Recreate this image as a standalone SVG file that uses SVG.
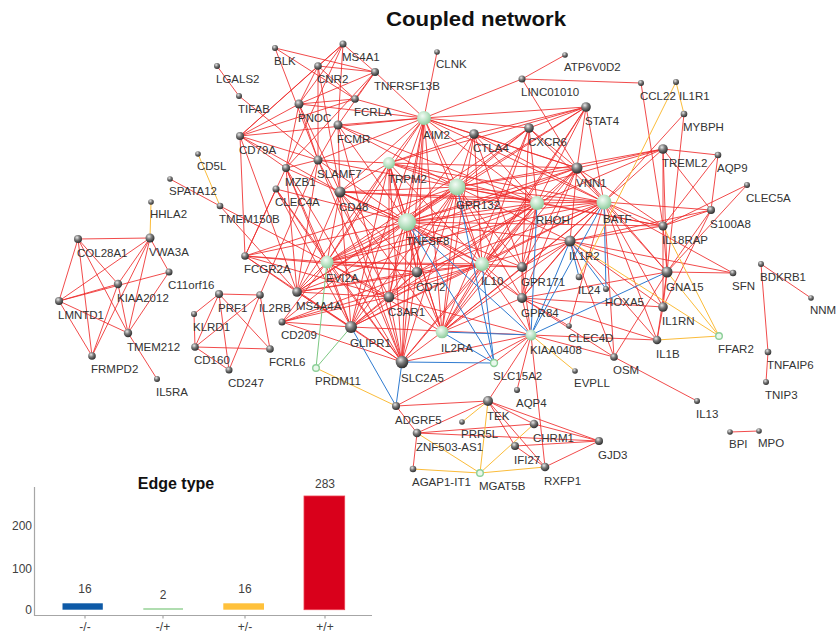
<svg xmlns="http://www.w3.org/2000/svg" width="837" height="635" viewBox="0 0 837 635">
<defs>
<radialGradient id="gs" cx="0.38" cy="0.32" r="0.7"><stop offset="0" stop-color="#e8e8e8"/><stop offset="0.45" stop-color="#7a7a7a"/><stop offset="1" stop-color="#2a2a2a"/></radialGradient>
<radialGradient id="gg" cx="0.4" cy="0.35" r="0.7"><stop offset="0" stop-color="#f4fcf6"/><stop offset="0.5" stop-color="#bfe5c8"/><stop offset="1" stop-color="#86c896"/></radialGradient>
</defs>
<style>
#edges line{fill:none}
.r{stroke:#ee2b2b;stroke-width:0.85}
.b{stroke:#2f7bd0;stroke-width:1}
.y{stroke:#fbbc3a;stroke-width:1}
.g{stroke:#7dc883;stroke-width:1}
.s{fill:url(#gs)}
.t{fill:url(#gg)}
.u{fill:#eaf8ec;stroke:#8ccf98;stroke-width:1.4}
.l{font-family:"Liberation Sans",Arial,sans-serif;font-size:11.5px;fill:#333}
.ttl{font-family:"Liberation Sans",Arial,sans-serif;font-weight:bold;fill:#111}
.ax{stroke:#a6a6a6;stroke-width:1.2;fill:none}
.cl{font-family:"Liberation Sans",Arial,sans-serif;font-size:12px;fill:#404040}
</style>
<rect width="837" height="635" fill="#fff"/>
<text class="ttl" x="476" y="26" font-size="20" text-anchor="middle" textLength="180" lengthAdjust="spacingAndGlyphs">Coupled network</text>
<g id="edges">
<g class="r">
<line x1="78" y1="239" x2="150" y2="238"/><line x1="78" y1="239" x2="59" y2="301"/><line x1="78" y1="239" x2="118" y2="284"/><line x1="78" y1="239" x2="128" y2="333"/><line x1="78" y1="239" x2="92" y2="356"/>
<line x1="150" y1="238" x2="59" y2="301"/><line x1="150" y1="238" x2="118" y2="284"/><line x1="150" y1="238" x2="169" y2="272"/><line x1="150" y1="238" x2="128" y2="333"/><line x1="150" y1="238" x2="92" y2="356"/>
<line x1="59" y1="301" x2="118" y2="284"/><line x1="59" y1="301" x2="169" y2="272"/><line x1="59" y1="301" x2="128" y2="333"/><line x1="59" y1="301" x2="92" y2="356"/>
<line x1="118" y1="284" x2="128" y2="333"/><line x1="118" y1="284" x2="92" y2="356"/><line x1="169" y1="272" x2="128" y2="333"/><line x1="128" y1="333" x2="157" y2="379"/>
<line x1="170" y1="179" x2="220" y2="206"/><line x1="217" y1="66" x2="239" y2="96"/><line x1="239" y1="96" x2="318" y2="160"/><line x1="220" y1="206" x2="327" y2="262"/><line x1="220" y1="206" x2="297" y2="292"/>
<line x1="219" y1="294" x2="194" y2="314"/><line x1="219" y1="294" x2="195" y2="347"/><line x1="219" y1="294" x2="260" y2="295"/><line x1="219" y1="294" x2="270" y2="349"/><line x1="219" y1="294" x2="229" y2="370"/>
<line x1="194" y1="314" x2="195" y2="347"/><line x1="195" y1="347" x2="260" y2="295"/><line x1="195" y1="347" x2="270" y2="349"/><line x1="195" y1="347" x2="229" y2="370"/><line x1="260" y1="295" x2="229" y2="370"/><line x1="260" y1="295" x2="270" y2="349"/><line x1="260" y1="295" x2="318" y2="160"/>
<line x1="275" y1="48" x2="375" y2="72"/><line x1="275" y1="48" x2="355" y2="99"/><line x1="275" y1="48" x2="318" y2="160"/>
<line x1="343" y1="44" x2="318" y2="66"/><line x1="343" y1="44" x2="299" y2="104"/><line x1="343" y1="44" x2="375" y2="72"/><line x1="343" y1="44" x2="338" y2="125"/><line x1="343" y1="44" x2="240" y2="136"/><line x1="343" y1="44" x2="286" y2="168"/>
<line x1="318" y1="66" x2="299" y2="104"/><line x1="318" y1="66" x2="375" y2="72"/><line x1="318" y1="66" x2="355" y2="99"/><line x1="318" y1="66" x2="240" y2="136"/><line x1="318" y1="66" x2="318" y2="160"/><line x1="318" y1="66" x2="340" y2="192"/>
<line x1="375" y1="72" x2="299" y2="104"/><line x1="375" y1="72" x2="355" y2="99"/><line x1="375" y1="72" x2="338" y2="125"/><line x1="375" y1="72" x2="424" y2="118"/><line x1="375" y1="72" x2="286" y2="168"/>
<line x1="299" y1="104" x2="355" y2="99"/><line x1="299" y1="104" x2="240" y2="136"/><line x1="299" y1="104" x2="286" y2="168"/><line x1="299" y1="104" x2="424" y2="118"/><line x1="299" y1="104" x2="318" y2="160"/><line x1="299" y1="104" x2="340" y2="192"/>
<line x1="355" y1="99" x2="240" y2="136"/><line x1="355" y1="99" x2="424" y2="118"/>
<line x1="338" y1="125" x2="424" y2="118"/><line x1="338" y1="125" x2="340" y2="192"/><line x1="338" y1="125" x2="407" y2="222"/><line x1="338" y1="125" x2="457" y2="187"/><line x1="338" y1="125" x2="537" y2="203"/><line x1="338" y1="125" x2="318" y2="160"/>
<line x1="240" y1="136" x2="286" y2="168"/><line x1="240" y1="136" x2="318" y2="160"/><line x1="240" y1="136" x2="424" y2="118"/><line x1="240" y1="136" x2="340" y2="192"/>
<line x1="318" y1="160" x2="286" y2="168"/><line x1="318" y1="160" x2="424" y2="118"/><line x1="318" y1="160" x2="389" y2="163"/><line x1="318" y1="160" x2="457" y2="187"/><line x1="318" y1="160" x2="407" y2="222"/><line x1="318" y1="160" x2="389" y2="297"/>
<line x1="286" y1="168" x2="297" y2="292"/><line x1="286" y1="168" x2="351" y2="327"/>
<line x1="276" y1="189" x2="327" y2="262"/><line x1="276" y1="189" x2="245" y2="256"/><line x1="276" y1="189" x2="351" y2="327"/><line x1="276" y1="189" x2="402" y2="362"/><line x1="276" y1="189" x2="407" y2="222"/>
<line x1="340" y1="192" x2="389" y2="163"/><line x1="340" y1="192" x2="424" y2="118"/><line x1="340" y1="192" x2="457" y2="187"/><line x1="340" y1="192" x2="407" y2="222"/><line x1="340" y1="192" x2="537" y2="203"/><line x1="340" y1="192" x2="604" y2="202"/><line x1="340" y1="192" x2="327" y2="262"/><line x1="340" y1="192" x2="297" y2="292"/><line x1="340" y1="192" x2="351" y2="327"/><line x1="340" y1="192" x2="402" y2="362"/><line x1="340" y1="192" x2="482" y2="264"/><line x1="340" y1="192" x2="417" y2="272"/>
<line x1="437" y1="52" x2="424" y2="118"/><line x1="522" y1="79" x2="565" y2="55"/><line x1="522" y1="79" x2="641" y2="83"/><line x1="522" y1="79" x2="424" y2="118"/><line x1="522" y1="79" x2="577" y2="168"/><line x1="641" y1="83" x2="663" y2="226"/>
<line x1="684" y1="114" x2="604" y2="202"/><line x1="684" y1="114" x2="667" y2="272"/>
<line x1="586" y1="107" x2="474" y2="134"/><line x1="586" y1="107" x2="529" y2="128"/><line x1="586" y1="107" x2="457" y2="187"/><line x1="586" y1="107" x2="577" y2="168"/><line x1="586" y1="107" x2="604" y2="202"/><line x1="586" y1="107" x2="537" y2="203"/><line x1="586" y1="107" x2="424" y2="118"/><line x1="586" y1="107" x2="407" y2="222"/><line x1="586" y1="107" x2="482" y2="264"/><line x1="586" y1="107" x2="389" y2="163"/>
<line x1="474" y1="134" x2="424" y2="118"/><line x1="474" y1="134" x2="457" y2="187"/><line x1="474" y1="134" x2="389" y2="163"/><line x1="474" y1="134" x2="577" y2="168"/><line x1="474" y1="134" x2="604" y2="202"/><line x1="474" y1="134" x2="537" y2="203"/><line x1="474" y1="134" x2="482" y2="264"/><line x1="474" y1="134" x2="407" y2="222"/><line x1="474" y1="134" x2="442" y2="332"/><line x1="474" y1="134" x2="522" y2="267"/>
<line x1="529" y1="128" x2="457" y2="187"/><line x1="529" y1="128" x2="537" y2="203"/><line x1="529" y1="128" x2="577" y2="168"/><line x1="529" y1="128" x2="407" y2="222"/><line x1="529" y1="128" x2="424" y2="118"/><line x1="529" y1="128" x2="482" y2="264"/><line x1="529" y1="128" x2="604" y2="202"/><line x1="529" y1="128" x2="522" y2="267"/><line x1="529" y1="128" x2="327" y2="262"/>
<line x1="663" y1="149" x2="718" y2="155"/><line x1="663" y1="149" x2="711" y2="210"/><line x1="663" y1="149" x2="604" y2="202"/><line x1="663" y1="149" x2="577" y2="168"/><line x1="663" y1="149" x2="667" y2="272"/><line x1="663" y1="149" x2="663" y2="226"/><line x1="663" y1="149" x2="457" y2="187"/><line x1="663" y1="149" x2="537" y2="203"/><line x1="663" y1="149" x2="407" y2="222"/>
<line x1="718" y1="155" x2="711" y2="210"/><line x1="718" y1="155" x2="663" y2="226"/><line x1="747" y1="185" x2="663" y2="226"/><line x1="747" y1="185" x2="667" y2="272"/>
<line x1="711" y1="210" x2="663" y2="226"/><line x1="711" y1="210" x2="667" y2="272"/><line x1="711" y1="210" x2="663" y2="307"/><line x1="711" y1="210" x2="604" y2="202"/>
<line x1="733" y1="273" x2="667" y2="272"/><line x1="733" y1="273" x2="570" y2="241"/><line x1="733" y1="273" x2="604" y2="202"/>
<line x1="761" y1="264" x2="811" y2="298"/><line x1="761" y1="264" x2="768" y2="352"/><line x1="768" y1="352" x2="766" y2="382"/><line x1="730" y1="432" x2="759" y2="431"/>
<line x1="614" y1="357" x2="697" y2="401"/><line x1="614" y1="357" x2="667" y2="272"/><line x1="614" y1="357" x2="604" y2="202"/><line x1="614" y1="357" x2="570" y2="241"/><line x1="614" y1="357" x2="531" y2="335"/>
<line x1="657" y1="340" x2="667" y2="272"/><line x1="657" y1="340" x2="663" y2="307"/><line x1="657" y1="340" x2="570" y2="241"/><line x1="657" y1="340" x2="522" y2="298"/><line x1="657" y1="340" x2="604" y2="202"/>
<line x1="663" y1="307" x2="667" y2="272"/><line x1="663" y1="307" x2="570" y2="241"/><line x1="663" y1="307" x2="604" y2="202"/><line x1="663" y1="307" x2="522" y2="298"/><line x1="663" y1="307" x2="663" y2="226"/>
<line x1="570" y1="241" x2="604" y2="202"/><line x1="570" y1="241" x2="667" y2="272"/><line x1="570" y1="241" x2="663" y2="226"/><line x1="570" y1="241" x2="711" y2="210"/><line x1="570" y1="241" x2="577" y2="168"/><line x1="570" y1="241" x2="457" y2="187"/><line x1="570" y1="241" x2="407" y2="222"/><line x1="570" y1="241" x2="482" y2="264"/><line x1="570" y1="241" x2="522" y2="298"/>
<line x1="667" y1="272" x2="663" y2="226"/><line x1="667" y1="272" x2="604" y2="202"/><line x1="667" y1="272" x2="522" y2="298"/><line x1="667" y1="272" x2="577" y2="168"/>
<line x1="663" y1="226" x2="604" y2="202"/><line x1="663" y1="226" x2="577" y2="168"/><line x1="663" y1="226" x2="537" y2="203"/><line x1="663" y1="226" x2="457" y2="187"/><line x1="663" y1="226" x2="407" y2="222"/>
<line x1="577" y1="168" x2="457" y2="187"/><line x1="577" y1="168" x2="537" y2="203"/><line x1="577" y1="168" x2="604" y2="202"/><line x1="577" y1="168" x2="407" y2="222"/><line x1="577" y1="168" x2="482" y2="264"/><line x1="577" y1="168" x2="522" y2="267"/><line x1="577" y1="168" x2="522" y2="298"/><line x1="577" y1="168" x2="424" y2="118"/><line x1="577" y1="168" x2="389" y2="163"/><line x1="577" y1="168" x2="327" y2="262"/><line x1="577" y1="168" x2="442" y2="332"/>
<line x1="424" y1="118" x2="389" y2="163"/><line x1="424" y1="118" x2="457" y2="187"/><line x1="424" y1="118" x2="407" y2="222"/><line x1="424" y1="118" x2="537" y2="203"/><line x1="424" y1="118" x2="604" y2="202"/><line x1="424" y1="118" x2="327" y2="262"/><line x1="424" y1="118" x2="482" y2="264"/><line x1="424" y1="118" x2="389" y2="297"/><line x1="424" y1="118" x2="351" y2="327"/><line x1="424" y1="118" x2="402" y2="362"/><line x1="424" y1="118" x2="417" y2="272"/><line x1="424" y1="118" x2="442" y2="332"/>
<line x1="389" y1="163" x2="457" y2="187"/><line x1="389" y1="163" x2="407" y2="222"/><line x1="389" y1="163" x2="537" y2="203"/><line x1="389" y1="163" x2="604" y2="202"/><line x1="389" y1="163" x2="327" y2="262"/><line x1="389" y1="163" x2="482" y2="264"/><line x1="389" y1="163" x2="417" y2="272"/><line x1="389" y1="163" x2="389" y2="297"/><line x1="389" y1="163" x2="351" y2="327"/><line x1="389" y1="163" x2="402" y2="362"/><line x1="389" y1="163" x2="297" y2="292"/><line x1="389" y1="163" x2="442" y2="332"/>
<line x1="457" y1="187" x2="407" y2="222"/><line x1="457" y1="187" x2="537" y2="203"/><line x1="457" y1="187" x2="604" y2="202"/><line x1="457" y1="187" x2="327" y2="262"/><line x1="457" y1="187" x2="482" y2="264"/><line x1="457" y1="187" x2="442" y2="332"/><line x1="457" y1="187" x2="417" y2="272"/><line x1="457" y1="187" x2="389" y2="297"/><line x1="457" y1="187" x2="351" y2="327"/><line x1="457" y1="187" x2="402" y2="362"/><line x1="457" y1="187" x2="297" y2="292"/><line x1="457" y1="187" x2="522" y2="267"/><line x1="457" y1="187" x2="522" y2="298"/><line x1="457" y1="187" x2="245" y2="256"/>
<line x1="407" y1="222" x2="537" y2="203"/><line x1="407" y1="222" x2="604" y2="202"/><line x1="407" y1="222" x2="327" y2="262"/><line x1="407" y1="222" x2="482" y2="264"/><line x1="407" y1="222" x2="442" y2="332"/><line x1="407" y1="222" x2="417" y2="272"/><line x1="407" y1="222" x2="389" y2="297"/><line x1="407" y1="222" x2="351" y2="327"/><line x1="407" y1="222" x2="402" y2="362"/><line x1="407" y1="222" x2="297" y2="292"/><line x1="407" y1="222" x2="522" y2="267"/><line x1="407" y1="222" x2="522" y2="298"/><line x1="407" y1="222" x2="245" y2="256"/><line x1="407" y1="222" x2="282" y2="322"/><line x1="407" y1="222" x2="286" y2="168"/>
<line x1="537" y1="203" x2="604" y2="202"/><line x1="537" y1="203" x2="327" y2="262"/><line x1="537" y1="203" x2="482" y2="264"/><line x1="537" y1="203" x2="442" y2="332"/><line x1="537" y1="203" x2="417" y2="272"/><line x1="537" y1="203" x2="389" y2="297"/><line x1="537" y1="203" x2="351" y2="327"/><line x1="537" y1="203" x2="402" y2="362"/><line x1="537" y1="203" x2="297" y2="292"/><line x1="537" y1="203" x2="522" y2="267"/><line x1="537" y1="203" x2="522" y2="298"/>
<line x1="604" y1="202" x2="327" y2="262"/><line x1="604" y1="202" x2="482" y2="264"/><line x1="604" y1="202" x2="442" y2="332"/><line x1="604" y1="202" x2="417" y2="272"/><line x1="604" y1="202" x2="522" y2="267"/><line x1="604" y1="202" x2="522" y2="298"/><line x1="604" y1="202" x2="351" y2="327"/>
<line x1="327" y1="262" x2="482" y2="264"/><line x1="327" y1="262" x2="442" y2="332"/><line x1="327" y1="262" x2="417" y2="272"/><line x1="327" y1="262" x2="389" y2="297"/><line x1="327" y1="262" x2="351" y2="327"/><line x1="327" y1="262" x2="402" y2="362"/><line x1="327" y1="262" x2="297" y2="292"/><line x1="327" y1="262" x2="245" y2="256"/><line x1="327" y1="262" x2="282" y2="322"/><line x1="327" y1="262" x2="286" y2="168"/><line x1="327" y1="262" x2="522" y2="267"/>
<line x1="482" y1="264" x2="442" y2="332"/><line x1="482" y1="264" x2="417" y2="272"/><line x1="482" y1="264" x2="389" y2="297"/><line x1="482" y1="264" x2="351" y2="327"/><line x1="482" y1="264" x2="402" y2="362"/><line x1="482" y1="264" x2="522" y2="267"/><line x1="482" y1="264" x2="522" y2="298"/><line x1="482" y1="264" x2="297" y2="292"/><line x1="482" y1="264" x2="531" y2="335"/>
<line x1="442" y1="332" x2="417" y2="272"/><line x1="442" y1="332" x2="522" y2="267"/><line x1="442" y1="332" x2="522" y2="298"/><line x1="442" y1="332" x2="529" y2="128"/><line x1="442" y1="332" x2="586" y2="107"/><line x1="442" y1="332" x2="340" y2="192"/><line x1="442" y1="332" x2="570" y2="241"/>
<line x1="531" y1="335" x2="522" y2="298"/><line x1="531" y1="335" x2="522" y2="267"/><line x1="531" y1="335" x2="402" y2="362"/><line x1="531" y1="335" x2="351" y2="327"/><line x1="531" y1="335" x2="389" y2="297"/><line x1="531" y1="335" x2="488" y2="401"/><line x1="531" y1="335" x2="545" y2="467"/><line x1="531" y1="335" x2="517" y2="390"/><line x1="531" y1="335" x2="396" y2="406"/><line x1="531" y1="335" x2="657" y2="340"/><line x1="531" y1="335" x2="494" y2="363"/>
<line x1="417" y1="272" x2="389" y2="297"/><line x1="417" y1="272" x2="351" y2="327"/><line x1="417" y1="272" x2="402" y2="362"/><line x1="417" y1="272" x2="297" y2="292"/><line x1="417" y1="272" x2="245" y2="256"/><line x1="417" y1="272" x2="282" y2="322"/>
<line x1="389" y1="297" x2="351" y2="327"/><line x1="389" y1="297" x2="402" y2="362"/><line x1="389" y1="297" x2="297" y2="292"/><line x1="389" y1="297" x2="245" y2="256"/><line x1="389" y1="297" x2="282" y2="322"/>
<line x1="351" y1="327" x2="402" y2="362"/><line x1="351" y1="327" x2="297" y2="292"/><line x1="351" y1="327" x2="282" y2="322"/><line x1="351" y1="327" x2="245" y2="256"/>
<line x1="402" y1="362" x2="297" y2="292"/><line x1="402" y1="362" x2="282" y2="322"/><line x1="402" y1="362" x2="286" y2="168"/><line x1="402" y1="362" x2="442" y2="332"/><line x1="402" y1="362" x2="338" y2="125"/><line x1="402" y1="362" x2="318" y2="160"/>
<line x1="297" y1="292" x2="245" y2="256"/><line x1="297" y1="292" x2="240" y2="136"/><line x1="297" y1="292" x2="318" y2="160"/><line x1="245" y1="256" x2="286" y2="168"/><line x1="245" y1="256" x2="240" y2="136"/><line x1="282" y1="322" x2="482" y2="264"/>
<line x1="522" y1="267" x2="522" y2="298"/><line x1="522" y1="267" x2="570" y2="241"/><line x1="522" y1="298" x2="569" y2="326"/><line x1="522" y1="298" x2="614" y2="357"/><line x1="569" y1="326" x2="604" y2="202"/>
<line x1="396" y1="406" x2="488" y2="401"/><line x1="396" y1="406" x2="417" y2="433"/><line x1="488" y1="401" x2="417" y2="433"/><line x1="488" y1="401" x2="534" y2="424"/><line x1="488" y1="401" x2="599" y2="441"/><line x1="488" y1="401" x2="515" y2="446"/><line x1="488" y1="401" x2="545" y2="467"/>
<line x1="417" y1="433" x2="534" y2="424"/><line x1="417" y1="433" x2="599" y2="441"/><line x1="417" y1="433" x2="413" y2="469"/><line x1="534" y1="424" x2="599" y2="441"/><line x1="515" y1="446" x2="599" y2="441"/><line x1="515" y1="446" x2="545" y2="467"/><line x1="545" y1="467" x2="599" y2="441"/>
</g>
<g class="b">
<line x1="604" y1="202" x2="606" y2="289"/><line x1="604" y1="202" x2="531" y2="335"/><line x1="570" y1="241" x2="531" y2="335"/><line x1="570" y1="241" x2="606" y2="289"/><line x1="667" y1="272" x2="531" y2="335"/><line x1="537" y1="203" x2="531" y2="335"/><line x1="457" y1="187" x2="494" y2="363"/><line x1="482" y1="264" x2="494" y2="363"/><line x1="407" y1="222" x2="531" y2="335"/><line x1="407" y1="222" x2="494" y2="363"/><line x1="442" y1="332" x2="531" y2="335"/><line x1="442" y1="332" x2="494" y2="363"/><line x1="402" y1="362" x2="494" y2="363"/><line x1="402" y1="362" x2="396" y2="406"/><line x1="351" y1="327" x2="396" y2="406"/><line x1="570" y1="241" x2="579" y2="277"/>
</g>
<g class="y">
<line x1="198" y1="154" x2="220" y2="206"/><line x1="150" y1="238" x2="151" y2="202"/><line x1="676" y1="82" x2="684" y2="114"/><line x1="676" y1="82" x2="579" y2="277"/><line x1="719" y1="336" x2="663" y2="226"/><line x1="719" y1="336" x2="570" y2="241"/><line x1="719" y1="336" x2="657" y2="340"/><line x1="531" y1="335" x2="575" y2="371"/><line x1="316" y1="368" x2="396" y2="406"/><line x1="488" y1="401" x2="462" y2="422"/><line x1="488" y1="401" x2="480" y2="473"/><line x1="417" y1="433" x2="480" y2="473"/><line x1="534" y1="424" x2="480" y2="473"/><line x1="545" y1="467" x2="480" y2="473"/><line x1="413" y1="469" x2="480" y2="473"/><line x1="719" y1="336" x2="667" y2="272"/>
</g>
<g class="g">
<line x1="316" y1="368" x2="327" y2="262"/><line x1="316" y1="368" x2="351" y2="327"/>
</g>
</g>
<g id="nodes">
<g id="n-BLK"><circle class="s" cx="275" cy="48" r="3"/><text class="l" x="274" y="64.5">BLK</text></g>
<g id="n-MS4A1"><circle class="s" cx="343" cy="44" r="3.5"/><text class="l" x="342" y="61">MS4A1</text></g>
<g id="n-CNR2"><circle class="s" cx="318" cy="66" r="3.8"/><text class="l" x="317" y="83.3">CNR2</text></g>
<g id="n-TNFRSF13B"><circle class="s" cx="375" cy="72" r="4"/><text class="l" x="374" y="89.5">TNFRSF13B</text></g>
<g id="n-LGALS2"><circle class="s" cx="217" cy="66" r="3"/><text class="l" x="216" y="82.5">LGALS2</text></g>
<g id="n-TIFAB"><circle class="s" cx="239" cy="96" r="3"/><text class="l" x="238" y="112.5">TIFAB</text></g>
<g id="n-PNOC"><circle class="s" cx="299" cy="104" r="4.5"/><text class="l" x="298" y="122">PNOC</text></g>
<g id="n-FCRLA"><circle class="s" cx="355" cy="99" r="3.8"/><text class="l" x="354" y="116.3">FCRLA</text></g>
<g id="n-FCMR"><circle class="s" cx="338" cy="125" r="4.5"/><text class="l" x="337" y="143">FCMR</text></g>
<g id="n-CD79A"><circle class="s" cx="240" cy="136" r="4"/><text class="l" x="239" y="153.5">CD79A</text></g>
<g id="n-SLAMF7"><circle class="s" cx="318" cy="160" r="4.5"/><text class="l" x="317" y="178">SLAMF7</text></g>
<g id="n-MZB1"><circle class="s" cx="286" cy="168" r="4"/><text class="l" x="285" y="185.5">MZB1</text></g>
<g id="n-CD5L"><circle class="s" cx="198" cy="154" r="2.8"/><text class="l" x="197" y="170.3">CD5L</text></g>
<g id="n-SPATA12"><circle class="s" cx="170" cy="179" r="2.8"/><text class="l" x="169" y="195.3">SPATA12</text></g>
<g id="n-CLEC4A"><circle class="s" cx="276" cy="189" r="3.5"/><text class="l" x="275" y="206">CLEC4A</text></g>
<g id="n-CD48"><circle class="s" cx="340" cy="192" r="5.5"/><text class="l" x="339" y="211">CD48</text></g>
<g id="n-TMEM150B"><circle class="s" cx="220" cy="206" r="3.3"/><text class="l" x="219" y="222.8">TMEM150B</text></g>
<g id="n-CLNK"><circle class="s" cx="437" cy="52" r="2.8"/><text class="l" x="436" y="68.3">CLNK</text></g>
<g id="n-ATP6V0D2"><circle class="s" cx="565" cy="55" r="2.8"/><text class="l" x="564" y="71.3">ATP6V0D2</text></g>
<g id="n-LINC01010"><circle class="s" cx="522" cy="79" r="3.5"/><text class="l" x="521" y="96">LINC01010</text></g>
<g id="n-CCL22"><circle class="s" cx="641" cy="83" r="3"/><text class="l" x="640" y="99.5">CCL22</text></g>
<g id="n-IL1R1"><circle class="s" cx="676" cy="82" r="3"/><text class="l" x="679" y="99.5">IL1R1</text></g>
<g id="n-STAT4"><circle class="s" cx="586" cy="107" r="4.8"/><text class="l" x="585" y="125.3">STAT4</text></g>
<g id="n-MYBPH"><circle class="s" cx="684" cy="114" r="3.3"/><text class="l" x="683" y="130.8">MYBPH</text></g>
<g id="n-CTLA4"><circle class="s" cx="474" cy="134" r="4.8"/><text class="l" x="473" y="152.3">CTLA4</text></g>
<g id="n-CXCR6"><circle class="s" cx="529" cy="128" r="4.8"/><text class="l" x="528" y="146.3">CXCR6</text></g>
<g id="n-TREML2"><circle class="s" cx="663" cy="149" r="4.8"/><text class="l" x="662" y="167.3">TREML2</text></g>
<g id="n-AQP9"><circle class="s" cx="718" cy="155" r="3.3"/><text class="l" x="717" y="171.8">AQP9</text></g>
<g id="n-VNN1"><circle class="s" cx="577" cy="168" r="5.5"/><text class="l" x="576" y="187">VNN1</text></g>
<g id="n-CLEC5A"><circle class="s" cx="747" cy="185" r="3"/><text class="l" x="746" y="201.5">CLEC5A</text></g>
<g id="n-S100A8"><circle class="s" cx="711" cy="210" r="4"/><text class="l" x="710" y="227.5">S100A8</text></g>
<g id="n-IL18RAP"><circle class="s" cx="663" cy="226" r="4.5"/><text class="l" x="662" y="244">IL18RAP</text></g>
<g id="n-IL1R2"><circle class="s" cx="570" cy="241" r="5.5"/><text class="l" x="569" y="260">IL1R2</text></g>
<g id="n-GPR171"><circle class="s" cx="522" cy="267" r="5"/><text class="l" x="521" y="285.5">GPR171</text></g>
<g id="n-IL24"><circle class="s" cx="579" cy="277" r="3.3"/><text class="l" x="578" y="293.8">IL24</text></g>
<g id="n-HOXA5"><circle class="s" cx="606" cy="289" r="3"/><text class="l" x="605" y="305.5">HOXA5</text></g>
<g id="n-GNA15"><circle class="s" cx="667" cy="272" r="5.5"/><text class="l" x="666" y="291">GNA15</text></g>
<g id="n-SFN"><circle class="s" cx="733" cy="273" r="3.3"/><text class="l" x="732" y="289.8">SFN</text></g>
<g id="n-GPR84"><circle class="s" cx="522" cy="298" r="5"/><text class="l" x="521" y="316.5">GPR84</text></g>
<g id="n-IL1RN"><circle class="s" cx="663" cy="307" r="4.8"/><text class="l" x="662" y="325.3">IL1RN</text></g>
<g id="n-CLEC4D"><circle class="s" cx="569" cy="326" r="2.8"/><text class="l" x="568" y="342.3">CLEC4D</text></g>
<g id="n-IL1B"><circle class="s" cx="657" cy="340" r="4.3"/><text class="l" x="656" y="357.8">IL1B</text></g>
<g id="n-OSM"><circle class="s" cx="614" cy="357" r="3.8"/><text class="l" x="613" y="374.3">OSM</text></g>
<g id="n-EVPLL"><circle class="s" cx="575" cy="371" r="2.8"/><text class="l" x="574" y="387.3">EVPLL</text></g>
<g id="n-AQP4"><circle class="s" cx="517" cy="390" r="3"/><text class="l" x="516" y="406.5">AQP4</text></g>
<g id="n-BDKRB1"><circle class="s" cx="761" cy="264" r="3"/><text class="l" x="760" y="280.5">BDKRB1</text></g>
<g id="n-NNM"><circle class="s" cx="811" cy="298" r="2.8"/><text class="l" x="810" y="314.3">NNM</text></g>
<g id="n-TNFAIP6"><circle class="s" cx="768" cy="352" r="3.3"/><text class="l" x="767" y="368.8">TNFAIP6</text></g>
<g id="n-TNIP3"><circle class="s" cx="766" cy="382" r="3"/><text class="l" x="765" y="398.5">TNIP3</text></g>
<g id="n-IL13"><circle class="s" cx="697" cy="401" r="3"/><text class="l" x="696" y="417.5">IL13</text></g>
<g id="n-BPI"><circle class="s" cx="730" cy="432" r="2.8"/><text class="l" x="729" y="448.3">BPI</text></g>
<g id="n-MPO"><circle class="s" cx="759" cy="431" r="2.8"/><text class="l" x="758" y="447.3">MPO</text></g>
<g id="n-HHLA2"><circle class="s" cx="151" cy="202" r="2.8"/><text class="l" x="150" y="218.3">HHLA2</text></g>
<g id="n-COL28A1"><circle class="s" cx="78" cy="239" r="4"/><text class="l" x="77" y="256.5">COL28A1</text></g>
<g id="n-VWA3A"><circle class="s" cx="150" cy="238" r="4.5"/><text class="l" x="149" y="256">VWA3A</text></g>
<g id="n-C11orf16"><circle class="s" cx="169" cy="272" r="3.5"/><text class="l" x="168" y="289">C11orf16</text></g>
<g id="n-KIAA2012"><circle class="s" cx="118" cy="284" r="4.2"/><text class="l" x="117" y="301.7">KIAA2012</text></g>
<g id="n-LMNTD1"><circle class="s" cx="59" cy="301" r="4"/><text class="l" x="58" y="318.5">LMNTD1</text></g>
<g id="n-TMEM212"><circle class="s" cx="128" cy="333" r="4.2"/><text class="l" x="127" y="350.7">TMEM212</text></g>
<g id="n-FRMPD2"><circle class="s" cx="92" cy="356" r="3.8"/><text class="l" x="91" y="373.3">FRMPD2</text></g>
<g id="n-IL5RA"><circle class="s" cx="157" cy="379" r="3"/><text class="l" x="156" y="395.5">IL5RA</text></g>
<g id="n-PRF1"><circle class="s" cx="219" cy="294" r="4"/><text class="l" x="218" y="311.5">PRF1</text></g>
<g id="n-KLRD1"><circle class="s" cx="194" cy="314" r="3"/><text class="l" x="193" y="330.5">KLRD1</text></g>
<g id="n-CD160"><circle class="s" cx="195" cy="347" r="3.8"/><text class="l" x="194" y="364.3">CD160</text></g>
<g id="n-CD247"><circle class="s" cx="229" cy="370" r="3.5"/><text class="l" x="228" y="387">CD247</text></g>
<g id="n-IL2RB"><circle class="s" cx="260" cy="295" r="3.8"/><text class="l" x="259" y="312.3">IL2RB</text></g>
<g id="n-FCGR2A"><circle class="s" cx="245" cy="256" r="3.8"/><text class="l" x="244" y="273.3">FCGR2A</text></g>
<g id="n-MS4A4A"><circle class="s" cx="297" cy="292" r="4.8"/><text class="l" x="296" y="310.3">MS4A4A</text></g>
<g id="n-CD209"><circle class="s" cx="282" cy="322" r="3.5"/><text class="l" x="281" y="339">CD209</text></g>
<g id="n-FCRL6"><circle class="s" cx="270" cy="349" r="3.8"/><text class="l" x="269" y="366.3">FCRL6</text></g>
<g id="n-GLIPR1"><circle class="s" cx="351" cy="327" r="6"/><text class="l" x="350" y="346.5">GLIPR1</text></g>
<g id="n-C3AR1"><circle class="s" cx="389" cy="297" r="5.3"/><text class="l" x="388" y="315.8">C3AR1</text></g>
<g id="n-CD72"><circle class="s" cx="417" cy="272" r="5.3"/><text class="l" x="416" y="290.8">CD72</text></g>
<g id="n-SLC2A5"><circle class="s" cx="402" cy="362" r="6.3"/><text class="l" x="401" y="381.8">SLC2A5</text></g>
<g id="n-ADGRF5"><circle class="s" cx="396" cy="406" r="4"/><text class="l" x="395" y="423.5">ADGRF5</text></g>
<g id="n-TEK"><circle class="s" cx="488" cy="401" r="5"/><text class="l" x="487" y="419.5">TEK</text></g>
<g id="n-PRR5L"><circle class="s" cx="462" cy="422" r="2.8"/><text class="l" x="461" y="438.3">PRR5L</text></g>
<g id="n-CHRM1"><circle class="s" cx="534" cy="424" r="4.3"/><text class="l" x="533" y="441.8">CHRM1</text></g>
<g id="n-ZNF503-AS1"><circle class="s" cx="417" cy="433" r="4.3"/><text class="l" x="416" y="450.8">ZNF503-AS1</text></g>
<g id="n-IFI27"><circle class="s" cx="515" cy="446" r="4"/><text class="l" x="514" y="463.5">IFI27</text></g>
<g id="n-GJD3"><circle class="s" cx="599" cy="441" r="4"/><text class="l" x="598" y="458.5">GJD3</text></g>
<g id="n-AGAP1-IT1"><circle class="s" cx="413" cy="469" r="3.3"/><text class="l" x="412" y="485.8">AGAP1-IT1</text></g>
<g id="n-RXFP1"><circle class="s" cx="545" cy="467" r="4.3"/><text class="l" x="544" y="484.8">RXFP1</text></g>
<g id="n-AIM2"><circle class="t" cx="424" cy="118" r="7"/><text class="l" x="423" y="138.5">AIM2</text></g>
<g id="n-TRPM2"><circle class="t" cx="389" cy="163" r="6"/><text class="l" x="388" y="182.5">TRPM2</text></g>
<g id="n-GPR132"><circle class="t" cx="457" cy="187" r="8.5"/><text class="l" x="456" y="209">GPR132</text></g>
<g id="n-TNFSF8"><circle class="t" cx="407" cy="222" r="9"/><text class="l" x="406" y="244.5">TNFSF8</text></g>
<g id="n-RHOH"><circle class="t" cx="537" cy="203" r="7"/><text class="l" x="536" y="223.5">RHOH</text></g>
<g id="n-BATF"><circle class="t" cx="604" cy="202" r="7.5"/><text class="l" x="603" y="223">BATF</text></g>
<g id="n-EVI2A"><circle class="t" cx="327" cy="262" r="6.5"/><text class="l" x="326" y="282">EVI2A</text></g>
<g id="n-IL10"><circle class="t" cx="482" cy="264" r="7"/><text class="l" x="481" y="284.5">IL10</text></g>
<g id="n-IL2RA"><circle class="t" cx="442" cy="332" r="6.3"/><text class="l" x="441" y="351.8">IL2RA</text></g>
<g id="n-KIAA0408"><circle class="t" cx="531" cy="335" r="5.5"/><text class="l" x="530" y="354">KIAA0408</text></g>
<g id="n-SLC15A2"><circle class="u" cx="494" cy="363" r="3.5"/><text class="l" x="493" y="380">SLC15A2</text></g>
<g id="n-MGAT5B"><circle class="u" cx="480" cy="473" r="3.3"/><text class="l" x="479" y="489.8">MGAT5B</text></g>
<g id="n-FFAR2"><circle class="u" cx="719" cy="336" r="3.3"/><text class="l" x="718" y="352.8">FFAR2</text></g>
<g id="n-PRDM11"><circle class="u" cx="316" cy="368" r="3.3"/><text class="l" x="315" y="384.8">PRDM11</text></g>
</g>
<g id="chart">
<text class="ttl" x="176" y="489" font-size="16" text-anchor="middle">Edge type</text>
<path class="ax" d="M34.5 487V615.5H372"/>
<path class="ax" d="M85 615.5v3M163 615.5v3M245 615.5v3M325 615.5v3"/>
<text class="cl" x="32" y="530" text-anchor="end">200</text>
<text class="cl" x="32" y="572.5" text-anchor="end">100</text>
<text class="cl" x="32" y="613.5" text-anchor="end">0</text>
<rect x="62.5" y="603.3" width="40.3" height="6.4" fill="#0e5aa7"/>
<rect x="143.3" y="608.3" width="39.7" height="1.4" fill="#8fcf8f"/>
<rect x="223.3" y="603.3" width="40.7" height="6.4" fill="#ffc13b"/>
<rect x="304" y="496" width="40.7" height="113.7" fill="#d9001b" stroke="#ee4050" stroke-width="0.8"/>
<text class="cl" x="85" y="593" text-anchor="middle">16</text>
<text class="cl" x="163" y="599" text-anchor="middle">2</text>
<text class="cl" x="245" y="593" text-anchor="middle">16</text>
<text class="cl" x="325" y="488" text-anchor="middle">283</text>
<text class="cl" x="85" y="631" text-anchor="middle">-/-</text>
<text class="cl" x="163" y="631" text-anchor="middle">-/+</text>
<text class="cl" x="245" y="631" text-anchor="middle">+/-</text>
<text class="cl" x="325" y="631" text-anchor="middle">+/+</text>
</g>
</svg>
